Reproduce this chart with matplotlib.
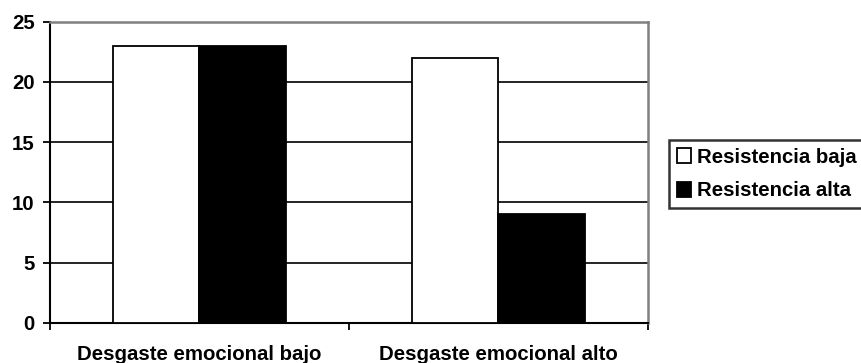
import matplotlib
matplotlib.use("Agg")
import matplotlib.pyplot as plt
from matplotlib.patches import Patch
import numpy as np

categories = ["Desgaste emocional bajo", "Desgaste emocional alto"]
series_names = ["Resistencia baja", "Resistencia alta"]
resistencia_baja = [23, 22]
resistencia_alta = [23, 9]
series_colors = ["white", "black"]
y_ticks = [0, 5, 10, 15, 20, 25]

plt.rcParams["font.family"] = ["Liberation Sans", "DejaVu Sans"]
plt.rcParams["font.weight"] = "bold"
FS = 14.7

fig = plt.figure(figsize=(8.61, 3.63), dpi=100)
ax = fig.add_axes([50 / 861, 40 / 363, 598 / 861, 301.5 / 363])

x = np.arange(len(categories))
width = 0.288
for i, (vals, col) in enumerate(zip([resistencia_baja, resistencia_alta], series_colors)):
    offset = (i - 0.5) * width
    ax.bar(x + offset, vals, width=width, color=col, edgecolor="black",
           linewidth=1.3, zorder=3)

ax.set_xlim(-0.5, len(categories) - 0.5)
ax.set_ylim(0, 25)

# horizontal gridlines
for yv in y_ticks[1:-1]:
    ax.axhline(yv, color="black", linewidth=1.2, zorder=1)

ax.set_yticks(y_ticks)
ax.set_yticklabels([str(v) for v in y_ticks], fontsize=FS, fontweight="bold")
ax.tick_params(axis="y", direction="out", length=5, width=1.3, pad=6)

ax.set_xticks(x)
ax.set_xticklabels(categories, fontsize=FS, fontweight="bold")
ax.tick_params(axis="x", which="major", length=0, pad=16)
ax.set_xticks(np.arange(-0.5, len(categories)), minor=True)
ax.tick_params(axis="x", which="minor", direction="out", length=5, width=1.3)

for side in ("left", "bottom"):
    ax.spines[side].set_color("black")
    ax.spines[side].set_linewidth(1.5)
for side in ("top", "right"):
    ax.spines[side].set_color("#808080")
    ax.spines[side].set_linewidth(1.8)

handles = [Patch(facecolor=c, edgecolor="black", linewidth=1.3) for c in series_colors]
leg = fig.legend(handles, series_names, loc="upper left",
                 bbox_to_anchor=(669 / 861, 1 - 140 / 363),
                 frameon=True, fancybox=False,
                 prop={"weight": "bold", "size": FS},
                 handlelength=0.72, handleheight=0.72, handletextpad=0.25,
                 labelspacing=0.72, borderpad=0.38, borderaxespad=0)
leg.get_frame().set_edgecolor("black")
leg.get_frame().set_linewidth(1.8)

fig.savefig("out.png", dpi=100)
